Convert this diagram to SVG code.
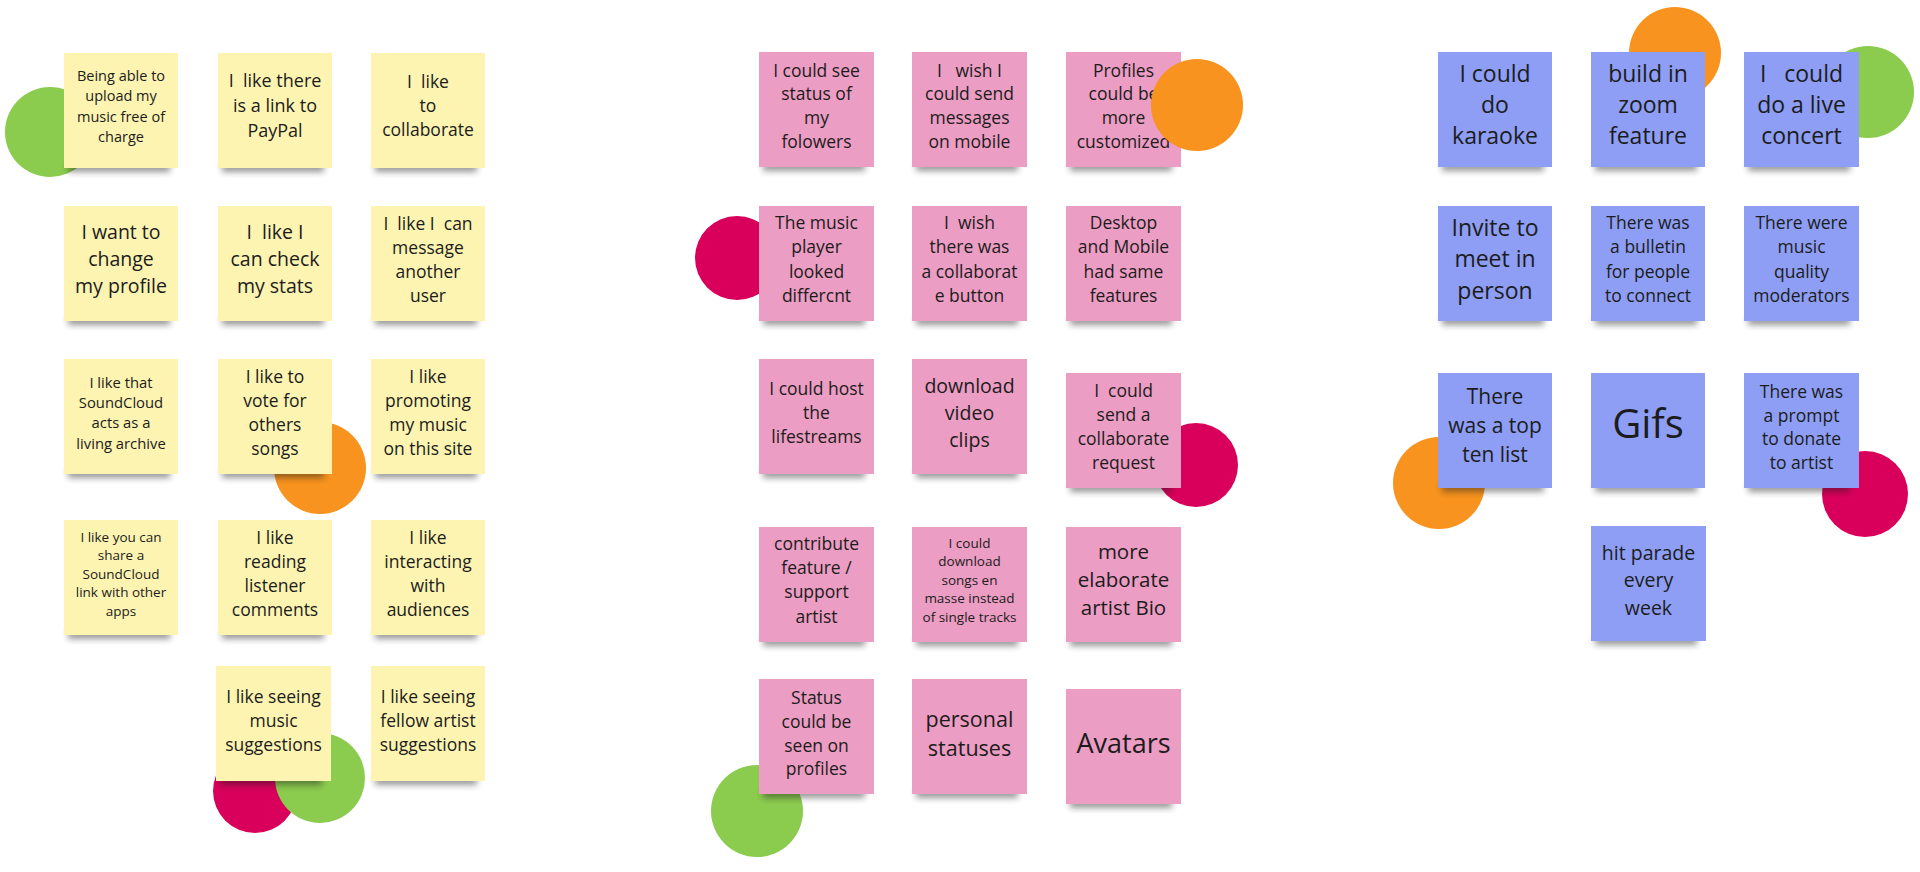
<svg xmlns="http://www.w3.org/2000/svg" width="1920" height="872" viewBox="0 0 1920 872">
<defs>
<filter id="blur" x="-20%" y="-100%" width="140%" height="300%"><feGaussianBlur stdDeviation="3"/></filter>
<style>
.sh{fill:#1a1a1a;opacity:.45;filter:url(#blur)}
.y{fill:#FDF4B2}
.p{fill:#EC9DC3}
.b{fill:#8D9EF4}
.t{font-family:"Open Sans","Liberation Sans",sans-serif;fill:#1c1c1c;text-anchor:middle;white-space:pre}
.dg{fill:#8BCB4E}
.do{fill:#F7931E}
.dr{fill:#D9005B}
</style>
</defs>
<rect width="1920" height="872" fill="#ffffff"/>

<g id="dots-under">
<circle class="dg" cx="50" cy="132" r="45"/>
<circle class="do" cx="320" cy="468" r="46"/>
<circle class="dr" cx="255" cy="791" r="42"/>
<circle class="dg" cx="320" cy="778" r="45"/>
<circle class="dr" cx="737" cy="258" r="42"/>
<circle class="dr" cx="1196" cy="465" r="42"/>
<circle class="dg" cx="757" cy="811" r="46"/>
<circle class="do" cx="1675" cy="53" r="46"/>
<circle class="dg" cx="1868" cy="92" r="46"/>
<circle class="do" cx="1439" cy="483" r="46"/>
<circle class="dr" cx="1865" cy="494" r="43"/>
</g>

<!-- Yellow column -->
<g id="y1"><rect class="sh" x="68" y="162" width="102" height="10"/><rect class="y" x="64" y="53" width="114" height="115"/><text class="t" font-size="14.5"><tspan x="121" y="81">Being able to</tspan><tspan x="121" y="101.3">upload my</tspan><tspan x="121" y="121.6">music free of</tspan><tspan x="121" y="141.9">charge</tspan></text></g>
<g id="y2"><rect class="sh" x="222" y="162" width="102" height="10"/><rect class="y" x="218" y="53" width="114" height="115"/><text class="t" font-size="18"><tspan x="275" y="86.7">I  like there</tspan><tspan x="275" y="111.7">is a link to</tspan><tspan x="275" y="136.7">PayPal</tspan></text></g>
<g id="y3"><rect class="sh" x="375" y="162" width="102" height="10"/><rect class="y" x="371" y="53" width="114" height="115"/><text class="t" font-size="17.5"><tspan x="428" y="87.5">I  like</tspan><tspan x="428" y="111.7">to</tspan><tspan x="428" y="135.9">collaborate</tspan></text></g>

<g id="y4"><rect class="sh" x="68" y="315" width="102" height="10"/><rect class="y" x="64" y="206" width="114" height="115"/><text class="t" font-size="19.5"><tspan x="121" y="239.3">I want to</tspan><tspan x="121" y="266.3">change</tspan><tspan x="121" y="293.3">my profile</tspan></text></g>
<g id="y5"><rect class="sh" x="222" y="315" width="102" height="10"/><rect class="y" x="218" y="206" width="114" height="115"/><text class="t" font-size="19.5"><tspan x="275" y="239.3">I  like I</tspan><tspan x="275" y="266.3">can check</tspan><tspan x="275" y="293.3">my stats</tspan></text></g>
<g id="y6"><rect class="sh" x="375" y="315" width="102" height="10"/><rect class="y" x="371" y="206" width="114" height="115"/><text class="t" font-size="17.5"><tspan x="428" y="229.8">I  like I  can</tspan><tspan x="428" y="253.8">message</tspan><tspan x="428" y="277.8">another</tspan><tspan x="428" y="301.8">user</tspan></text></g>

<g id="y7"><rect class="sh" x="68" y="468" width="102" height="10"/><rect class="y" x="64" y="359" width="114" height="115"/><text class="t" font-size="14.8"><tspan x="121" y="387.6">I like that</tspan><tspan x="121" y="407.9">SoundCloud</tspan><tspan x="121" y="428.2">acts as a</tspan><tspan x="121" y="448.5">living archive</tspan></text></g>
<g id="y8"><rect class="sh" x="222" y="468" width="102" height="10"/><rect class="y" x="218" y="359" width="114" height="115"/><text class="t" font-size="17.5"><tspan x="275" y="382.6">I like to</tspan><tspan x="275" y="406.7">vote for</tspan><tspan x="275" y="430.8">others</tspan><tspan x="275" y="454.9">songs</tspan></text></g>
<g id="y9"><rect class="sh" x="375" y="468" width="102" height="10"/><rect class="y" x="371" y="359" width="114" height="115"/><text class="t" font-size="17.5"><tspan x="428" y="382.6">I like</tspan><tspan x="428" y="406.7">promoting</tspan><tspan x="428" y="430.8">my music</tspan><tspan x="428" y="454.9">on this site</tspan></text></g>

<g id="y10"><rect class="sh" x="68" y="629" width="102" height="10"/><rect class="y" x="64" y="520" width="114" height="115"/><text class="t" font-size="13.5"><tspan x="121" y="541.9">I like you can</tspan><tspan x="121" y="560.3">share a</tspan><tspan x="121" y="578.7">SoundCloud</tspan><tspan x="121" y="597.1">link with other</tspan><tspan x="121" y="615.5">apps</tspan></text></g>
<g id="y11"><rect class="sh" x="222" y="629" width="102" height="10"/><rect class="y" x="218" y="520" width="114" height="115"/><text class="t" font-size="17.5"><tspan x="275" y="544">I like</tspan><tspan x="275" y="568">reading</tspan><tspan x="275" y="592">listener</tspan><tspan x="275" y="616">comments</tspan></text></g>
<g id="y12"><rect class="sh" x="375" y="629" width="102" height="10"/><rect class="y" x="371" y="520" width="114" height="115"/><text class="t" font-size="17.5"><tspan x="428" y="544">I like</tspan><tspan x="428" y="568">interacting</tspan><tspan x="428" y="592">with</tspan><tspan x="428" y="616">audiences</tspan></text></g>

<g id="y13"><rect class="sh" x="220" y="775" width="102" height="10"/><rect class="y" x="216" y="666" width="115" height="115"/><text class="t" font-size="17.5"><tspan x="273.5" y="702.5">I like seeing</tspan><tspan x="273.5" y="726.5">music</tspan><tspan x="273.5" y="750.5">suggestions</tspan></text></g>
<g id="y14"><rect class="sh" x="375" y="775" width="102" height="10"/><rect class="y" x="371" y="666" width="114" height="115"/><text class="t" font-size="17.5"><tspan x="428" y="702.5">I like seeing</tspan><tspan x="428" y="726.5">fellow artist</tspan><tspan x="428" y="750.5">suggestions</tspan></text></g>

<!-- Pink column -->
<g id="p1"><rect class="sh" x="763" y="161" width="102" height="10"/><rect class="p" x="759" y="52" width="115" height="115"/><text class="t" font-size="17.5"><tspan x="816.5" y="76.5">I could see</tspan><tspan x="816.5" y="100.4">status of</tspan><tspan x="816.5" y="124.3">my</tspan><tspan x="816.5" y="148.2">folowers</tspan></text></g>
<g id="p2"><rect class="sh" x="916" y="161" width="102" height="10"/><rect class="p" x="912" y="52" width="115" height="115"/><text class="t" font-size="17.5"><tspan x="969.5" y="76.5">I   wish I</tspan><tspan x="969.5" y="100.4">could send</tspan><tspan x="969.5" y="124.3">messages</tspan><tspan x="969.5" y="148.2">on mobile</tspan></text></g>
<g id="p3"><rect class="sh" x="1070" y="161" width="102" height="10"/><rect class="p" x="1066" y="52" width="115" height="115"/><text class="t" font-size="17.5"><tspan x="1123.5" y="76.5">Profiles</tspan><tspan x="1123.5" y="100.4">could be</tspan><tspan x="1123.5" y="124.3">more</tspan><tspan x="1123.5" y="148.2">customized</tspan></text></g>

<g id="p4"><rect class="sh" x="763" y="315" width="102" height="10"/><rect class="p" x="759" y="206" width="115" height="115"/><text class="t" font-size="17.5"><tspan x="816.5" y="229.3">The music</tspan><tspan x="816.5" y="253.4">player</tspan><tspan x="816.5" y="277.5">looked</tspan><tspan x="816.5" y="301.6">differcnt</tspan></text></g>
<g id="p5"><rect class="sh" x="916" y="315" width="102" height="10"/><rect class="p" x="912" y="206" width="115" height="115"/><text class="t" font-size="17.5"><tspan x="969.5" y="229.3">I  wish</tspan><tspan x="969.5" y="253.4">there was</tspan><tspan x="969.5" y="277.5">a collaborat</tspan><tspan x="969.5" y="301.6">e button</tspan></text></g>
<g id="p6"><rect class="sh" x="1070" y="315" width="102" height="10"/><rect class="p" x="1066" y="206" width="115" height="115"/><text class="t" font-size="17.5"><tspan x="1123.5" y="229.3">Desktop</tspan><tspan x="1123.5" y="253.4">and Mobile</tspan><tspan x="1123.5" y="277.5">had same</tspan><tspan x="1123.5" y="301.6">features</tspan></text></g>

<g id="p7"><rect class="sh" x="763" y="468" width="102" height="10"/><rect class="p" x="759" y="359" width="115" height="115"/><text class="t" font-size="17.5"><tspan x="816.5" y="395">I could host</tspan><tspan x="816.5" y="419">the</tspan><tspan x="816.5" y="443">lifestreams</tspan></text></g>
<g id="p8"><rect class="sh" x="916" y="468" width="102" height="10"/><rect class="p" x="912" y="359" width="115" height="115"/><text class="t" font-size="19.5"><tspan x="969.5" y="392.5">download</tspan><tspan x="969.5" y="419.7">video</tspan><tspan x="969.5" y="446.9">clips</tspan></text></g>
<g id="p9"><rect class="sh" x="1070" y="482" width="102" height="10"/><rect class="p" x="1066" y="373" width="115" height="115"/><text class="t" font-size="17.5"><tspan x="1123.5" y="396.9">I  could</tspan><tspan x="1123.5" y="421">send a</tspan><tspan x="1123.5" y="445.1">collaborate</tspan><tspan x="1123.5" y="469.2">request</tspan></text></g>

<g id="p10"><rect class="sh" x="763" y="636" width="102" height="10"/><rect class="p" x="759" y="527" width="115" height="115"/><text class="t" font-size="17.5"><tspan x="816.5" y="550.2">contribute</tspan><tspan x="816.5" y="574.3">feature /</tspan><tspan x="816.5" y="598.4">support</tspan><tspan x="816.5" y="622.5">artist</tspan></text></g>
<g id="p11"><rect class="sh" x="916" y="636" width="102" height="10"/><rect class="p" x="912" y="527" width="115" height="115"/><text class="t" font-size="13.5"><tspan x="969.5" y="547.9">I could</tspan><tspan x="969.5" y="566.4">download</tspan><tspan x="969.5" y="584.9">songs en</tspan><tspan x="969.5" y="603.4">masse instead</tspan><tspan x="969.5" y="621.9">of single tracks</tspan></text></g>
<g id="p12"><rect class="sh" x="1070" y="636" width="102" height="10"/><rect class="p" x="1066" y="527" width="115" height="115"/><text class="t" font-size="20.5"><tspan x="1123.5" y="558.6">more</tspan><tspan x="1123.5" y="586.9">elaborate</tspan><tspan x="1123.5" y="615.2">artist Bio</tspan></text></g>

<g id="p13"><rect class="sh" x="763" y="788" width="102" height="10"/><rect class="p" x="759" y="679" width="115" height="115"/><text class="t" font-size="17.5"><tspan x="816.5" y="704.1">Status</tspan><tspan x="816.5" y="727.8">could be</tspan><tspan x="816.5" y="751.5">seen on</tspan><tspan x="816.5" y="775.2">profiles</tspan></text></g>
<g id="p14"><rect class="sh" x="916" y="788" width="102" height="10"/><rect class="p" x="912" y="679" width="115" height="115"/><text class="t" font-size="21.5"><tspan x="969.5" y="726.6">personal</tspan><tspan x="969.5" y="755.6">statuses</tspan></text></g>
<g id="p15"><rect class="sh" x="1070" y="798" width="102" height="10"/><rect class="p" x="1066" y="689" width="115" height="115"/><text class="t" font-size="27"><tspan x="1123.5" y="752.5">Avatars</tspan></text></g>

<!-- Blue column -->
<g id="b1"><rect class="sh" x="1442" y="161" width="102" height="10"/><rect class="b" x="1438" y="52" width="114" height="115"/><text class="t" font-size="23"><tspan x="1495" y="81.8">I could</tspan><tspan x="1495" y="113.1">do</tspan><tspan x="1495" y="144.4">karaoke</tspan></text></g>
<g id="b2"><rect class="sh" x="1595" y="161" width="102" height="10"/><rect class="b" x="1591" y="52" width="114" height="115"/><text class="t" font-size="23"><tspan x="1648" y="81.8">build in</tspan><tspan x="1648" y="113.1">zoom</tspan><tspan x="1648" y="144.4">feature</tspan></text></g>
<g id="b3"><rect class="sh" x="1748" y="161" width="102" height="10"/><rect class="b" x="1744" y="52" width="115" height="115"/><text class="t" font-size="23"><tspan x="1801.5" y="81.8">I   could</tspan><tspan x="1801.5" y="113.1">do a live</tspan><tspan x="1801.5" y="144.4">concert</tspan></text></g>

<g id="b4"><rect class="sh" x="1442" y="315" width="102" height="10"/><rect class="b" x="1438" y="206" width="114" height="115"/><text class="t" font-size="23"><tspan x="1495" y="235.5">Invite to</tspan><tspan x="1495" y="267.1">meet in</tspan><tspan x="1495" y="298.7">person</tspan></text></g>
<g id="b5"><rect class="sh" x="1595" y="315" width="102" height="10"/><rect class="b" x="1591" y="206" width="114" height="115"/><text class="t" font-size="17.5"><tspan x="1648" y="229.3">There was</tspan><tspan x="1648" y="253.4">a bulletin</tspan><tspan x="1648" y="277.5">for people</tspan><tspan x="1648" y="301.6">to connect</tspan></text></g>
<g id="b6"><rect class="sh" x="1748" y="315" width="102" height="10"/><rect class="b" x="1744" y="206" width="115" height="115"/><text class="t" font-size="17.5"><tspan x="1801.5" y="229.3">There were</tspan><tspan x="1801.5" y="253.4">music</tspan><tspan x="1801.5" y="277.5">quality</tspan><tspan x="1801.5" y="301.6">moderators</tspan></text></g>

<g id="b7"><rect class="sh" x="1442" y="482" width="102" height="10"/><rect class="b" x="1438" y="373" width="114" height="115"/><text class="t" font-size="21"><tspan x="1495" y="403.8">There</tspan><tspan x="1495" y="433">was a top</tspan><tspan x="1495" y="462.2">ten list</tspan></text></g>
<g id="b8"><rect class="sh" x="1595" y="482" width="102" height="10"/><rect class="b" x="1591" y="373" width="114" height="115"/><text class="t" font-size="40"><tspan x="1648" y="438">Gifs</tspan></text></g>
<g id="b9"><rect class="sh" x="1748" y="482" width="102" height="10"/><rect class="b" x="1744" y="373" width="115" height="115"/><text class="t" font-size="17.5"><tspan x="1801.5" y="397.6">There was</tspan><tspan x="1801.5" y="421.5">a prompt</tspan><tspan x="1801.5" y="445.4">to donate</tspan><tspan x="1801.5" y="469.3">to artist</tspan></text></g>

<g id="b10"><rect class="sh" x="1595" y="635" width="102" height="10"/><rect class="b" x="1591" y="526" width="115" height="115"/><text class="t" font-size="19.5"><tspan x="1648.5" y="560">hit parade</tspan><tspan x="1648.5" y="587.3">every</tspan><tspan x="1648.5" y="614.6">week</tspan></text></g>

<g id="dots-over">
<circle class="do" cx="1197" cy="105" r="46"/>
</g>
</svg>
